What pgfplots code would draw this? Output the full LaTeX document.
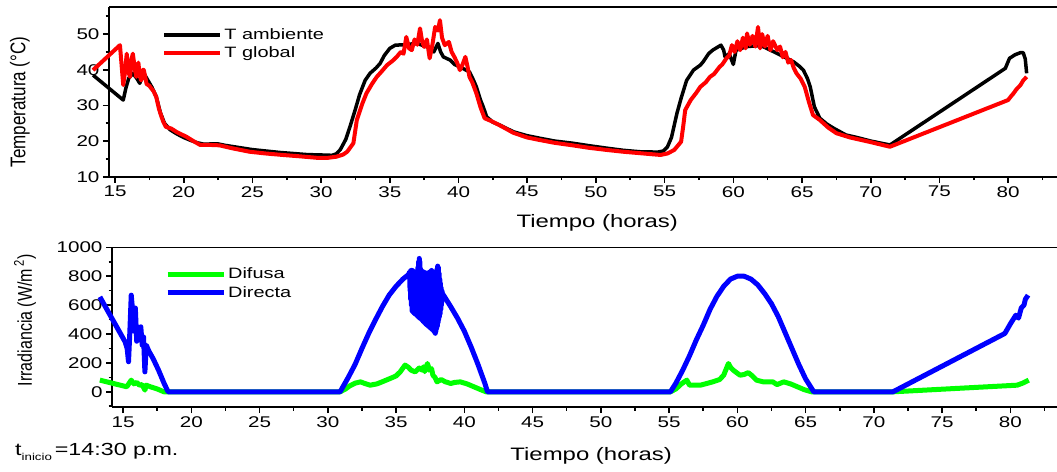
\documentclass[border=0pt]{standalone}
\usepackage{fontspec}
\setmainfont[FakeStretch=1.33]{Liberation Sans}
\newfontfamily\plainsans{Liberation Sans}
\usepackage{pgfplots}
\pgfplotsset{compat=1.18}
\usepackage{graphicx}

\pgfplotsset{
  myax/.style={
    scale only axis,
    axis x line*=box, axis y line*=left,
    axis line style={line width=1.6pt,-},
    xtick pos=left, ytick pos=left,
    tick align=outside,
    major tick length=6pt, minor tick length=3.5pt,
    tick style={line width=1.6pt, black},
    clip=false,
    tick label style={font=\fontsize{15.5}{15.5}\selectfont},
    /pgf/number format/assume math mode=true,
    /pgf/number format/1000 sep={},
    xlabel style={font=\fontsize{18}{18}\selectfont},
    legend style={draw=none, fill=none, font=\fontsize{15}{19}\selectfont, row sep=2pt, inner sep=0pt, cells={anchor=west}},
    legend image code/.code={\draw[#1] (0pt,0pt) -- (56pt,0pt);},
  }
}

\begin{document}
\begin{tikzpicture}
\useasboundingbox (0pt,0pt) rectangle (1057pt,-471pt);

% ---------------- Top: temperatures ----------------
\begin{axis}[myax,
  at={(109pt,-176.7pt)}, anchor=south west,
  width=948pt, height=169.7pt,
  xmin=14.563, xmax=83.56, ymin=10, ymax=57.6,
  xtick={15,20,...,80}, minor xtick={17.5,22.5,...,82.5},
  ytick={10,20,...,50}, minor ytick={15,25,...,55},
  xlabel={Tiempo (horas)},
  xlabel style={at={(axis description cs:0.515,-0.27)}, anchor=center},
  ylabel={\scalebox{1}[1.25]{Temperatura (°C)}},
  ylabel style={font=\plainsans\fontsize{17}{17}\selectfont, at={(axis description cs:-0.094,0.44)}, anchor=center},
  legend style={at={(rel axis cs:0.056,0.885)}, anchor=north west},
]
\addplot[black, line width=3.5pt, line join=round] coordinates {
(13.4,38.5) (15.6,31.5) (15.8,35) (16.0,37.6) (16.3,39) (16.6,37.5) (16.8,36.2) (17.1,39) (17.4,37) (17.7,35) (18.0,32.5) (18.3,28) (18.6,25) (19.0,23.2) (19.5,22) (20,21) (20.5,20.2) (21,19.5) (21.5,19.1) (22,19.2) (22.5,19.2) (23,18.8) (24,18.2) (25,17.6) (26,17.2) (27,16.8) (28,16.5) (29,16.2) (30,16.1) (30.8,16.0) (31.1,16.4) (31.4,17.6) (31.8,20.5) (32.1,24) (32.5,29) (32.8,33) (33.2,37) (33.56,39) (34.0,40.5) (34.3,41.8) (34.6,44) (35,46) (35.4,46.9) (36,47) (36.5,47.2) (37,47.4) (37.4,46.8) (37.7,46.4) (38.0,45.5) (38.2,45) (38.5,47.4) (38.7,45) (38.9,43.6) (39.4,42.7) (39.7,41.5) (40.1,40.8) (40.5,40) (40.8,39.4) (41.1,37) (41.3,35.2) (41.6,31.5) (41.8,29.6) (42.05,26.8) (42.5,25.3) (43,24.5) (44,22.6) (45,21.5) (45.9,20.8) (47,20) (48.3,19.4) (49.5,18.7) (50.8,18) (52,17.4) (53.2,17) (54.5,16.9) (54.9,17.2) (55.2,18.3) (55.5,21) (55.9,27.8) (56.2,32) (56.6,37) (57.1,39.9) (57.6,41.3) (57.8,42.2) (58.2,44.5) (58.5,45.5) (59.1,46.9) (59.3,45.5) (59.4,43.6) (59.7,44.5) (59.9,42.5) (60.0,41.5) (60.2,45.5) (61,46.5) (62,46.8) (62.7,45.5) (63.5,44) (64,43) (64.4,42.2) (64.8,41) (65.1,39.9) (65.4,37.5) (65.6,35.2) (65.9,29.6) (66.3,26.4) (66.8,24.8) (67.3,23.6) (68.2,21.7) (69,21) (70,20) (71.4,18.9) (79.8,40.4) (80.1,43.2) (80.5,44.2) (80.9,44.8) (81.1,44.8) (81.25,43) (81.35,39)
};
\addlegendentry{T ambiente}
\addplot[red, line width=4pt, line join=round] coordinates {
(13.4,39.9) (15.36,46.9) (15.6,35.7) (15.75,40) (15.85,44.5) (16.0,39) (16.1,38) (16.2,43) (16.3,44.5) (16.45,40) (16.55,38) (16.7,42) (16.8,38.5) (16.9,37) (17.05,40) (17.1,39.9) (17.3,36) (17.5,35.5) (17.6,35) (17.8,34) (18.0,32.4) (18.2,29) (18.3,27.8) (18.5,25.5) (18.7,24) (19.1,23.5) (19.5,22.5) (20.2,21.2) (20.7,20) (21.2,18.9) (22.0,18.9) (22.6,18.8) (23.5,18) (24.8,17) (26,16.5) (27.2,16.1) (28.5,15.7) (29.7,15.3) (30.5,15.3) (31.1,15.6) (31.6,16.2) (31.9,17) (32.35,19.4) (32.6,25.9) (33.0,30.5) (33.3,33.4) (33.7,36) (34.05,38) (34.4,39.5) (34.8,41.3) (35.2,42.5) (35.5,43.6) (35.8,45) (36.0,44.5) (36.2,49.2) (36.4,46) (36.6,45.5) (36.8,48.5) (37.0,47) (37.2,51.6) (37.35,48) (37.5,46.4) (37.7,48.5) (37.9,43.2) (38.1,47) (38.3,52) (38.5,51) (38.65,53.9) (38.8,49) (39.0,46.9) (39.3,47.8) (39.5,45) (39.7,43.6) (39.9,42) (40.1,39.9) (40.3,41.5) (40.5,43.6) (40.65,41) (40.8,38) (41.0,36.5) (41.3,33.4) (41.6,29.5) (41.9,26.4) (42.5,25.4) (43.2,24) (44,22.3) (45,21) (45.9,20.3) (47,19.5) (48.3,18.8) (49.5,18.1) (50.8,17.5) (52,17) (53.2,16.6) (54.7,16.1) (55.2,16.5) (55.7,17.5) (56.2,19.8) (56.35,24) (56.5,28.7) (56.9,31.5) (57.3,33.5) (57.6,35.2) (58.0,36.5) (58.3,38) (58.6,38.8) (59.0,40.8) (59.2,41.5) (59.5,43.2) (59.7,44) (59.9,46.9) (60.1,45) (60.3,48) (60.5,45.5) (60.7,49) (60.9,46) (61.0,50.2) (61.2,47) (61.4,49.5) (61.6,46.5) (61.8,52) (61.95,46) (62.1,50) (62.3,46.5) (62.5,49.5) (62.7,45.5) (62.9,48) (63.2,45.5) (63.4,46.5) (63.6,43.5) (63.8,45) (64.0,42) (64.2,42.7) (64.4,40.5) (64.6,39) (64.9,37.5) (65.2,35.2) (65.5,31) (65.8,27.3) (66.3,25.9) (66.9,23.8) (67.5,22.2) (68.5,21) (70,19.7) (71.4,18.4) (80.0,31.5) (80.2,32.5) (80.4,33.4) (80.6,34.5) (80.9,35.7) (81.1,37) (81.35,38)
};
\addlegendentry{T global}
\end{axis}

% ---------------- Bottom: irradiance ----------------
\begin{axis}[myax,
  at={(112pt,-407pt)}, anchor=south west,
  width=945pt, height=159.7pt,
  xmin=14.19, xmax=83.42, ymin=-105, ymax=1000,
  xtick={15,20,...,80}, minor xtick={17.5,22.5,...,82.5},
  ytick={0,200,...,1000}, minor ytick={-100,100,300,...,900},
  xlabel={Tiempo (horas)},
  xlabel style={at={(axis description cs:0.507,-0.306)}, anchor=center},
  ylabel={\scalebox{1}[1.25]{Irradiancia (W/m\,\textsuperscript{2})}},
  ylabel style={font=\plainsans\fontsize{16}{16}\selectfont, at={(axis description cs:-0.092,0.544)}, anchor=center},
  legend style={at={(rel axis cs:0.056,0.885)}, anchor=north west},
]
\addplot[color={rgb,255:red,0;green,255;blue,0}, line width=5pt, line join=round] coordinates {
(13.3,81) (15.27,35) (15.45,60) (15.6,81) (15.8,55) (16.0,65) (16.2,46) (16.4,50) (16.6,12) (16.7,46) (17.0,35) (17.5,20) (18.0,0) (30.9,0) (31.3,20) (31.6,41) (32.0,60) (32.4,69) (32.7,58) (33.1,46) (33.6,55) (34.0,70) (34.56,92) (35.0,110) (35.3,138) (35.66,185) (35.9,170) (36.1,150) (36.4,138) (36.7,165) (36.9,150) (37.0,173) (37.1,140) (37.3,196) (37.45,150) (37.6,160) (37.7,115) (37.85,100) (38,69) (38.3,85) (38.6,70) (39,58) (39.3,65) (39.7,69) (40.2,55) (40.7,35) (41.2,15) (41.6,0) (55.1,0) (55.5,20) (55.9,55) (56.3,81) (56.5,46) (57.3,46) (58.2,69) (58.7,85) (59.0,115) (59.35,196) (59.5,170) (59.7,150) (60.2,115) (60.5,120) (60.8,133) (61.1,110) (61.4,81) (61.9,69) (62.6,69) (62.9,50) (63.4,69) (63.9,55) (64.4,35) (64.9,15) (65.45,0) (71.4,0) (80.5,46) (80.9,60) (81.35,81)
};
\addlegendentry{Difusa}
\addplot[blue, line width=5pt, line join=round] coordinates {
(13.3,657) (15.15,346) (15.3,300) (15.4,208) (15.5,420) (15.6,669) (15.7,560) (15.8,420) (15.9,580) (16.0,350) (16.1,440) (16.2,370) (16.3,450) (16.4,323) (16.5,380) (16.6,138) (16.7,323) (16.9,280) (17.2,230) (17.6,150) (18.0,60) (18.3,0) (30.9,0) (31.5,100) (32,190) (32.5,300) (33,405) (33.5,500) (34,590) (34.5,670) (35,730) (35.5,780) (35.9,810)
(36.00,830) (36.025,700) (36.05,835) (36.075,640) (36.10,840) (36.125,600) (36.15,840) (36.175,560) (36.20,840) (36.225,554) (36.25,835) (36.275,550) (36.30,830) (36.325,545) (36.35,825) (36.375,540) (36.40,825) (36.425,538) (36.45,822) (36.475,534) (36.50,820) (36.525,530) (36.55,830) (36.575,525) (36.60,860) (36.625,520) (36.65,900) (36.675,515) (36.70,923) (36.725,512) (36.75,900) (36.775,508) (36.80,850) (36.825,505) (36.85,840) (36.875,500) (36.90,835) (36.925,495) (36.95,830) (36.975,490) (37.00,830) (37.025,485) (37.05,828) (37.075,480) (37.10,826) (37.125,476) (37.15,824) (37.175,470) (37.20,822) (37.225,466) (37.25,820) (37.275,462) (37.30,820) (37.325,458) (37.35,822) (37.375,454) (37.40,825) (37.425,450) (37.45,828) (37.475,446) (37.50,830) (37.525,442) (37.55,835) (37.575,438) (37.60,840) (37.625,434) (37.65,835) (37.675,430) (37.70,825) (37.725,425) (37.75,815) (37.775,420) (37.80,805) (37.825,412) (37.85,800) (37.875,405) (37.90,800) (37.925,420) (37.95,820) (37.975,440) (38.00,850) (38.025,455) (38.05,870) (38.075,480) (38.10,860) (38.125,500) (38.15,820) (38.175,520) (38.20,780) (38.225,540) (38.25,750) (38.275,570) (38.30,720) (38.325,600) (38.35,700) (38.40,680)
(38.6,650) (39,590) (39.5,510) (40,420) (40.5,310) (41,190) (41.5,60) (41.7,0) (55.1,0) (55.5,60) (56,150) (56.5,250) (57,360) (57.5,460) (58,570) (58.5,660) (59,730) (59.5,780) (60,800) (60.5,800) (61,780) (61.5,740) (62,680) (62.5,610) (63,520) (63.5,410) (64,300) (64.5,190) (65,90) (65.6,0) (71.4,0) (79.6,404) (80.0,470) (80.4,530) (80.6,510) (80.8,580) (81.0,600) (81.1,640) (81.3,669)
};
\addlegendentry{Directa}
\end{axis}

\node[anchor=base west, inner sep=0pt, font=\fontsize{17.5}{17.5}\selectfont] at (15pt,-455pt)
  {t\raisebox{-5pt}{\fontsize{10}{10}\selectfont inicio}\,=14:30 p.m.};
\end{tikzpicture}
\end{document}
